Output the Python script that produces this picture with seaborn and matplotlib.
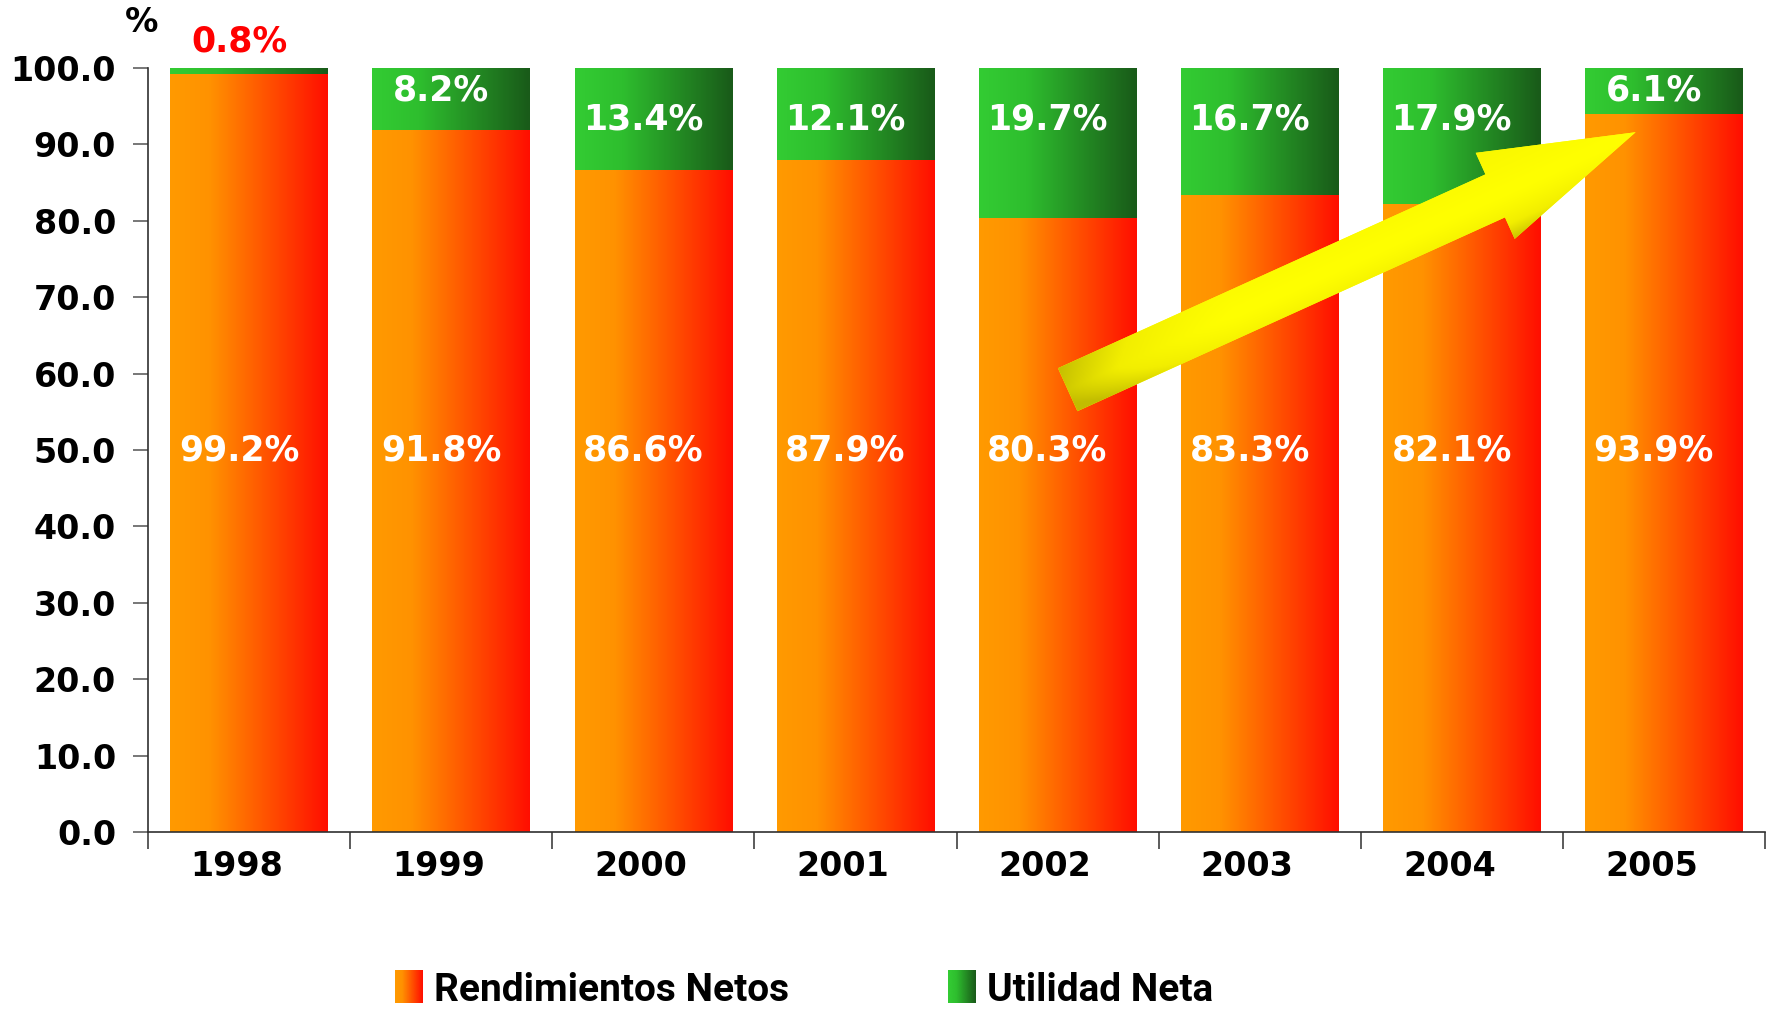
import numpy as np
import matplotlib
matplotlib.use("Agg")
import matplotlib.pyplot as plt
import seaborn as sns
from matplotlib.colors import LinearSegmentedColormap, Normalize
from matplotlib.patches import FancyArrowPatch, Rectangle
from matplotlib.legend_handler import HandlerBase
from matplotlib.image import BboxImage
from matplotlib.transforms import Bbox, TransformedBbox, ScaledTranslation

# data
years = ["1998", "1999", "2000", "2001", "2002", "2003", "2004", "2005"]
rendimientos = [99.2, 91.8, 86.6, 87.9, 80.3, 83.3, 82.1, 93.9]
utilidad = [0.8, 8.2, 13.4, 12.1, 19.7, 16.7, 17.9, 6.1]
y_ticks = np.arange(0, 101, 10)
legend_labels = ["Rendimientos Netos", "Utilidad Neta"]

# trend arrow (annotation), data units
arrow_tail = (4.05, 57.9)
arrow_tip = (6.86, 91.6)

sns.set_style("white")
plt.rcParams["font.family"] = ["DejaVu Sans"]
plt.rcParams["text.color"] = "black"
plt.rcParams["xtick.labelcolor"] = "black"
plt.rcParams["ytick.labelcolor"] = "black"

orange_cmap = LinearSegmentedColormap.from_list(
    "naranja", [(0, "#FF9A00"), (0.25, "#FF9200"), (1, "#FF0E00")])
green_cmap = LinearSegmentedColormap.from_list(
    "verde", [(0, "#33CC33"), (0.3, "#2EBE2E"), (1, "#195A19")])
arrow_cmap = LinearSegmentedColormap.from_list(
    "flecha", ["#FFFF00", "#F2EE00", "#C2BC00"])

fig = plt.figure(figsize=(17.71, 10.11), dpi=100)
ax = fig.add_axes([0.0836, 0.177, 0.913, 0.7557])
n = len(years)

totals = [r + u for r, u in zip(rendimientos, utilidad)]
sns.barplot(x=years, y=totals, color="#33CC33", width=0.78, errorbar=None, ax=ax)
sns.barplot(x=years, y=rendimientos, color="#FF9900", width=0.78, errorbar=None, ax=ax)

# gradient fill for each bar
grad = np.linspace(0, 1, 256).reshape(1, -1)
for i, bar in enumerate(ax.patches):
    cmap = green_cmap if i < n else orange_cmap
    x0, y0 = bar.get_x(), bar.get_y()
    w, h = bar.get_width(), bar.get_height()
    ax.imshow(grad, cmap=cmap, extent=[x0, x0 + w, y0, y0 + h], aspect="auto",
              interpolation="bicubic", zorder=1.1 if i < n else 1.2)
    bar.set_facecolor("none")
    bar.set_edgecolor("none")

ax.set_xlim(-0.5, n - 0.5)
ax.set_ylim(0, 100)
ax.set_xlabel("")
ax.set_ylabel("")

ax.set_yticks(y_ticks)
ax.set_yticklabels([f"{v:.1f}" for v in y_ticks], fontsize=24, fontweight="bold")
ax.set_xticks(range(n))
ax.set_xticklabels(years, fontsize=24, fontweight="bold")
ax.set_xticks(np.arange(-0.5, n), minor=True)
ax.tick_params(axis="x", which="major", bottom=True, length=0, pad=13)
ax.tick_params(axis="x", which="minor", bottom=True, length=12, width=1.2,
               color="#404040", direction="out")
ax.tick_params(axis="y", left=True, length=11, width=1.2, color="#606060", pad=12)
shift = ScaledTranslation(-9 / 72, 0, fig.dpi_scale_trans)
for lab in ax.get_xticklabels():
    lab.set_transform(lab.get_transform() + shift)
sns.despine(ax=ax)
for side in ["left", "bottom"]:
    ax.spines[side].set_color("#303030")
    ax.spines[side].set_linewidth(1.2)

# value labels
for i in range(n):
    ax.text(i - 0.05, 50, f"{rendimientos[i]:.1f}%", color="white", ha="center",
            va="center", fontsize=25, fontweight="bold", zorder=6)
    g = utilidad[i]
    if g < 2:
        ax.text(i - 0.05, 103.5, f"{g:.1f}%", color="#FF0000", ha="center",
                va="center", fontsize=25, fontweight="bold", clip_on=False)
    else:
        ax.text(i - 0.05, 97.1 if g < 10 else 93.3, f"{g:.1f}%", color="white",
                ha="center", va="center", fontsize=25, fontweight="bold", zorder=6)

ax.text(-0.53, 105.9, "%", ha="center", va="center", fontsize=24,
        fontweight="bold", clip_on=False)

# yellow trend arrow with shading
arrow = FancyArrowPatch(arrow_tail, arrow_tip,
                        arrowstyle="simple,head_length=111,head_width=68,tail_width=34",
                        mutation_scale=1, shrinkA=0, shrinkB=0, fc="#FFFF00",
                        ec="none", zorder=4)
ax.add_patch(arrow)

gx, gy = np.meshgrid(np.linspace(-0.5, n - 0.5, 500), np.linspace(0, 100, 400))
pts = ax.transData.transform(np.column_stack([gx.ravel(), gy.ravel()]))
p0 = ax.transData.transform(arrow_tail)
p1 = ax.transData.transform(arrow_tip)
d = p1 - p0
L = np.hypot(*d)
u = d / L
nrm = np.array([-u[1], u[0]])
rel = pts - p0
along = rel @ u / L
across = rel @ nrm
half = 68 * fig.dpi / 72 / 2
shade = (0.9 * np.clip(-across / half, 0, 1) ** 1.5
         + 0.25 * np.clip(across / half, 0, 1)
         + 0.85 * np.clip(1 - along / 0.3, 0, 1) ** 1.5)
shade = np.clip(shade, 0, 1).reshape(gx.shape)
im = ax.imshow(shade, cmap=arrow_cmap, vmin=0, vmax=1, origin="lower",
               extent=[-0.5, n - 0.5, 0, 100], aspect="auto",
               interpolation="bilinear", zorder=5)
im.set_clip_path(arrow)
ax.set_xlim(-0.5, n - 0.5)
ax.set_ylim(0, 100)


class GradientHandler(HandlerBase):
    def __init__(self, cmap):
        super().__init__()
        self.cmap = cmap

    def create_artists(self, legend, orig_handle, xdescent, ydescent,
                       width, height, fontsize, trans):
        bb = TransformedBbox(Bbox.from_bounds(-xdescent, -ydescent, width, height), trans)
        img = BboxImage(bb, cmap=self.cmap, norm=Normalize(0, 1), interpolation="bicubic")
        img.set_data(np.linspace(0, 1, 64).reshape(1, -1))
        return [img]


h_or = Rectangle((0, 0), 1, 1)
h_gr = Rectangle((0, 0), 1, 1)
fig.legend([h_or, h_gr], legend_labels, loc="center left",
           bbox_to_anchor=(395 / 1771, 0.021), ncol=2, frameon=False,
           prop=dict(size=28, weight="bold", family="Roboto"),
           handlelength=0.7, handleheight=0.9, handletextpad=0.3,
           columnspacing=4.1, borderpad=0, borderaxespad=0,
           handler_map={h_or: GradientHandler(orange_cmap), h_gr: GradientHandler(green_cmap)})

fig.savefig("out.png", dpi=100)
